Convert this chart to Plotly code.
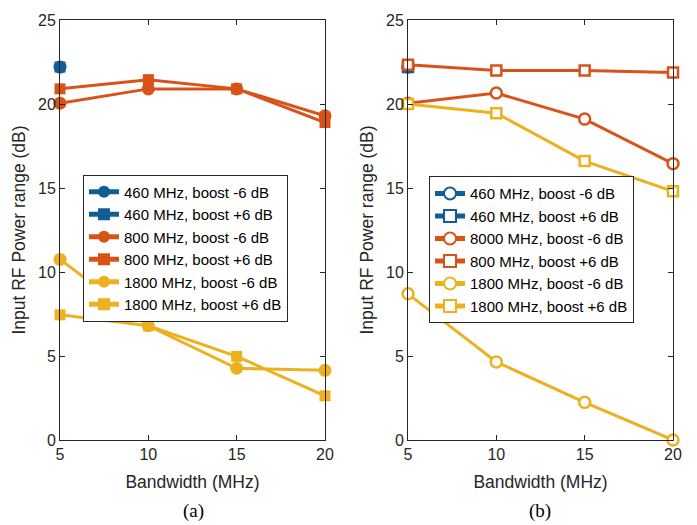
import plotly.graph_objects as go
from plotly.subplots import make_subplots

bw = [5, 10, 15, 20]

# (a)
a_460_m6 = [22.2]
a_460_p6 = [22.2]
a_800_m6 = [20.05, 20.9, 20.9, 19.3]
a_800_p6 = [20.9, 21.45, 20.9, 18.9]
a_1800_m6 = [10.75, 6.8, 4.27, 4.15]
a_1800_p6 = [7.45, 6.8, 4.98, 2.63]

# (b)
b_460_m6 = [22.2]
b_460_p6 = [22.2]
b_800_m6 = [20.05, 20.65, 19.1, 16.45]
b_800_p6 = [22.33, 22.0, 22.0, 21.88]
b_1800_m6 = [8.7, 4.65, 2.24, 0.0]
b_1800_p6 = [20.0, 19.45, 16.6, 14.8]

labels_a = ["460 MHz, boost -6 dB", "460 MHz, boost +6 dB", "800 MHz, boost -6 dB",
            "800 MHz, boost +6 dB", "1800 MHz, boost -6 dB", "1800 MHz, boost +6 dB"]
labels_b = ["460 MHz, boost -6 dB", "460 MHz, boost +6 dB", "8000 MHz, boost -6 dB",
            "800 MHz, boost +6 dB", "1800 MHz, boost -6 dB", "1800 MHz, boost +6 dB"]

BLUE = "#125E94"
ORANGE = "#D95319"
YELLOW = "#EDB120"
colors = [BLUE, BLUE, ORANGE, ORANGE, YELLOW, YELLOW]
symbols = ["circle", "square", "circle", "square", "circle", "square"]

fig = make_subplots(rows=1, cols=2, horizontal_spacing=0.1354)

series_a = [a_460_m6, a_460_p6, a_800_m6, a_800_p6, a_1800_m6, a_1800_p6]
series_b = [b_460_m6, b_460_p6, b_800_m6, b_800_p6, b_1800_m6, b_1800_p6]

for i, ys in enumerate(series_a):
    fig.add_trace(go.Scatter(
        x=bw[:len(ys)], y=ys, mode="lines+markers", name=labels_a[i],
        line=dict(color=colors[i], width=3),
        marker=dict(symbol=symbols[i], size=13 if symbols[i] == "circle" else 11,
                    color=colors[i], line=dict(width=0)),
        cliponaxis=False, legend="legend"), row=1, col=1)

for i, ys in enumerate(series_b):
    fig.add_trace(go.Scatter(
        x=bw[:len(ys)], y=ys, mode="lines+markers", name=labels_b[i],
        line=dict(color=colors[i], width=3),
        marker=dict(symbol=symbols[i],
                    size=11 if symbols[i] == "circle" else 10,
                    color="white", line=dict(color=colors[i], width=2.5)),
        cliponaxis=False, legend="legend2"), row=1, col=2)

FONT = "Liberation Sans, Arial, sans-serif"
axis_common = dict(showline=True, linecolor="#262626", linewidth=1, mirror="ticks",
                   ticks="inside", ticklen=5, tickcolor="#262626", showgrid=False,
                   zeroline=False, tickfont=dict(family=FONT, size=16, color="#262626"))

for c in (1, 2):
    fig.update_xaxes(range=[5, 20], tickvals=[5, 10, 15, 20],
                     title=dict(text="Bandwidth (MHz)", font=dict(family=FONT, size=17.5, color="#262626"), standoff=13),
                     row=1, col=c, **axis_common)
    fig.update_yaxes(range=[0, 25], tickvals=[0, 5, 10, 15, 20, 25],
                     title=dict(text="Input RF Power range (dB)", font=dict(family=FONT, size=17.5, color="#262626"), standoff=7),
                     row=1, col=c, **axis_common)

legend_common = dict(bgcolor="white", bordercolor="#262626", borderwidth=1,
                     font=dict(family=FONT, size=15, color="#000000"),
                     xanchor="left", yanchor="top", tracegroupgap=0, itemsizing="constant")

fig.update_layout(
    width=697, height=525,
    margin=dict(l=60, r=24, t=15, b=85),
    plot_bgcolor="white", paper_bgcolor="white",
    legend=dict(x=0.0375, y=0.632, **legend_common),
    legend2=dict(x=0.602, y=0.628, **legend_common),
    annotations=[
        dict(text="(a)", x=(193 - 60) / 613, y=-72 / 425, xref="paper", yref="paper",
             xanchor="center", yanchor="middle", showarrow=False,
             font=dict(family="Liberation Serif, Times New Roman, serif", size=19, color="black")),
        dict(text="(b)", x=(540 - 60) / 613, y=-72 / 425, xref="paper", yref="paper",
             xanchor="center", yanchor="middle", showarrow=False,
             font=dict(family="Liberation Serif, Times New Roman, serif", size=19, color="black")),
    ],
)

fig.write_html("out.html")
